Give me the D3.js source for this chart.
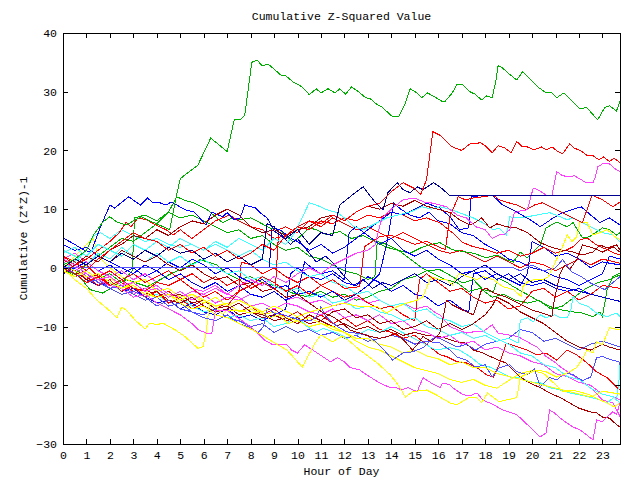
<!DOCTYPE html>
<html><head><meta charset="utf-8">
<script src="https://cdn.jsdelivr.net/npm/d3@7"></script>
<style>
body{margin:0;background:#fff;}
text{font-family:"Liberation Mono","DejaVu Sans Mono",monospace;font-size:11.5px;fill:#000;}
</style></head>
<body>
<svg id="chart" width="640" height="480"></svg>
<script>
// ---------- data (hour of day, cumulative (Z*Z)-1) ----------
const hourTicks = d3.range(0, 24);
const valueTicks = [-30, -20, -10, 0, 10, 20, 30, 40];
const titleText = "Cumulative Z-Squared Value";
const xLabel = "Hour of Day";
const yLabel = "Cumulative (Z*Z)-1";

const g1 = [[0,0.5],[0.5,1.5],[1,3],[1.3,5.6],[1.7,7.8],[2,8.7],[2.3,7.8],[2.7,7.3],[3,8],[3.35,8.7],[3.7,8],[4.1,7.3],[4.55,6.5],[4.8,11.6],[5,15.2],[5.75,17.5],[6.3,22.1],[7,19.8],[7.3,25.2],[7.55,25.2],[7.75,26],[8.05,35],[8.27,35.4],[8.5,34.4],[8.75,34.7],[9.33,32.7],[9.5,32.7],[9.8,31.7],[10.2,30.8],[10.5,29.5],[10.8,30.5],[11,29.8],[11.3,30.5],[11.6,29.8],[11.8,30.5],[12.05,29.6],[12.3,30.8],[12.6,30],[12.9,29],[13.1,28.8],[13.4,27.8],[13.6,27.4],[13.95,26.1],[14.07,25.7],[14.3,25.7],[14.6,28.1],[14.8,30.5],[15.1,29.8],[15.3,29],[15.55,29.8],[15.85,29.1],[16.15,28.4],[16.3,28.4],[16.6,29.8],[16.8,31.3],[17.05,31.2],[17.35,30],[17.56,29.6],[17.85,28.6],[18.07,29.3],[18.3,29],[18.45,31.7],[18.55,34.4],[18.7,34.2],[18.97,33.2],[19.35,32],[19.6,33.4],[19.9,32.2],[20.25,30.8],[20.6,29.8],[20.85,29.8],[21.06,29],[21.36,29.8],[21.7,28.4],[22.04,27.1],[22.33,27.3],[22.6,26.1],[22.8,25.2],[23.1,27.3],[23.3,27.6],[23.6,26.7],[23.75,28.4]];
const r1 = [[0,2],[0.5,1],[1,-0.5],[1.5,1.5],[2,3],[2.5,4.5],[3,6],[3.5,5],[4,4.5],[4.5,3],[5,4],[5.5,2.5],[6,3.5],[6.5,2],[7,3],[7.5,1.5],[8,2.5],[8.5,4],[9,3],[9.5,5.5],[10,7],[10.5,8],[11,7.5],[11.5,9],[12,8],[12.5,9.5],[13,10.5],[13.5,11],[14,13],[14.5,14.5],[15,13.5],[15.25,12.5],[15.5,15],[15.77,23.2],[16.07,22.6],[16.35,21.5],[16.6,20.6],[17,20],[17.35,21.1],[17.8,21.3],[18,20.8],[18.3,19.6],[18.55,20.8],[18.85,20.4],[19.1,19.6],[19.35,21.5],[19.6,20.6],[19.8,20.6],[20.1,20.1],[20.4,20.6],[20.6,20.1],[20.85,20.6],[21.1,19.8],[21.3,19.4],[21.6,21.1],[21.8,20.4],[22.1,19.9],[22.33,19.2],[22.6,19.1],[22.85,18.4],[23.05,18.9],[23.3,18.1],[23.5,18.7],[23.75,17.9]];
const m1 = [[0,1.5],[0.5,0.5],[1,-1],[1.5,-2],[2,-1.5],[2.5,-3],[3,-2.5],[3.5,-4],[4,-3.5],[4.5,-5],[5,-4],[5.5,-5.5],[6,-4.5],[6.5,-3.5],[7,-4.5],[7.5,-3],[8,-2],[8.5,-3],[9,-1.5],[9.5,-2.5],[10,-1],[10.5,0],[11,-1],[11.5,0.5],[12,1.5],[12.5,2.5],[13,3],[13.3,3.9],[13.6,8.5],[14,10],[14.5,11.6],[15,11.9],[15.4,11.2],[15.8,11],[16.35,10.4],[16.8,9],[17.2,8.5],[17.6,7],[18,6.5],[18.3,5],[18.6,5.6],[18.8,5.6],[19.05,6.5],[19.25,9.4],[19.5,9.7],[19.8,9.9],[20.05,13.6],[20.3,13.2],[20.6,12.4],[20.85,12.4],[21.05,16.4],[21.3,15.7],[21.6,15.5],[21.8,15.7],[22,15.2],[22.1,15],[22.3,14.5],[22.6,14.5],[22.7,15.5],[22.8,17.2],[23,17.7],[23.3,17.7],[23.6,16.7],[23.75,16.4]];
const n1 = [[0,0],[0.5,1.5],[1,0.5],[1.5,2],[2,1],[2.5,2.5],[3,1.5],[3.5,3],[4,2],[4.5,3.5],[5,2.5],[5.5,3],[6,1.5],[6.5,2.5],[7,1],[7.5,2],[8,0.5],[8.5,1.5],[8.7,7.5],[9,7],[9.5,5],[10,6.5],[10.5,4],[11,6],[11.5,5.5],[11.8,10.7],[12.3,12.3],[12.8,13.8],[13.3,11.2],[13.65,9.9],[13.85,12.8],[14.25,14.5],[14.5,13.3],[14.8,12.8],[15.1,13.8],[15.35,13.3],[15.8,14.5],[16.07,13.8],[16.5,12.3],[23.75,12.3]];
const sb0 = [[0,0],[19.2,0],[19.5,-0.5],[20,0.5],[20.5,-0.5],[21,0],[21.3,1.4],[21.7,-0.7],[22.1,-1.5],[22.5,-2.6],[23.1,-3.7],[23.75,-1.5]];
const n0 = [[0,0],[8.8,0],[8.9,6.5],[9.3,5.5],[9.7,4],[10,5],[10.4,3],[10.8,1],[11.2,2],[11.6,0.5],[12,-1.5],[12.4,-3],[12.8,-2],[13.2,-3.5],[13.6,-2.5],[14,-3],[14.5,-2],[15,-1],[15.5,-2.5],[16,-2],[16.5,-3],[17,-1.5],[17.5,-0.5],[18,0.5],[18.5,-1],[19,-2],[19.5,-1],[20,-2.5],[20.5,-2],[21,-3],[21.5,-3.5],[22,-4],[22.5,-4.5],[23,-5],[23.75,-5.7]];
const b1 = [[0,5.1],[0.5,4],[0.9,3],[1.2,2.7],[1.6,7],[2,10.7],[2.2,10.2],[2.8,12.1],[3.3,10.7],[3.6,11.9],[3.8,11.2],[4.05,11.2],[4.4,10.7],[4.6,11.2],[4.85,10.7],[5.2,9.9],[5.6,9.5],[6.1,7.3],[6.35,9.5],[6.8,8.7],[7,9.4],[7.3,8.2],[7.55,8.5],[7.75,10.7],[8.2,10.2],[8.4,9.4],[8.7,8.5],[8.95,6.8],[9.3,6.4],[9.7,5],[10,4.5],[10.5,3],[11,4],[11.5,2.5],[12,3.5],[12.5,5],[13,6.5],[13.5,8],[14,9.5],[14.5,9],[15,10],[15.5,11],[16.07,10.2],[16.5,8.7],[16.9,6.5],[17.3,6.8],[17.4,12.1],[18,12.4],[18.3,12.4],[18.75,10.7],[19.35,9.5],[20,8],[20.35,7],[20.9,8.5],[21.3,9.4],[22.1,10.4],[22.5,9],[22.9,7.7],[23.3,8.5],[23.75,7.3]];
const g2 = [[0,-0.5],[0.5,-1],[1,0.5],[1.5,2],[2,3.5],[2.5,5],[3,4.5],[3.5,6],[4,7.5],[4.5,9.5],[4.85,12.1],[5.2,11.5],[5.55,11.1],[6.15,9.9],[6.8,7.7],[7.2,8.5],[7.55,8.2],[8,8.5],[8.4,7.7],[8.8,6.8],[9.25,6.5],[9.8,4.4],[10.1,5.3],[10.5,6.8],[10.8,6.5],[11.25,5.6],[11.8,6.2],[12.3,5],[12.8,5.5],[13.3,4.5],[13.8,3.5],[14.3,3],[14.8,2.5],[15.3,3.5],[15.7,4],[16.07,4.3],[16.6,3.1],[17.2,2.7],[17.5,2.5],[18.05,1.7],[18.5,2.2],[18.9,1.4],[19.2,1],[19.5,2.7],[19.8,1.7],[20.35,3.9],[20.6,6.8],[21.05,7.8],[21.5,7],[21.75,7.7],[22.15,5.1],[22.45,5.3],[22.75,6.1],[23,6.8],[23.3,6.5],[23.6,5.6],[23.75,6]];
const g3 = [[0,0],[0.7,-1.5],[1.15,-3.7],[1.7,-4.3],[2.15,-3.2],[2.7,-2],[3.15,-2.6],[3.6,-3.2],[4.15,-2],[4.6,-1],[5.2,0],[5.85,1.4],[6.55,0.5],[7,-1],[7.5,-2],[8,-1.5],[8.5,-2.5],[9,-3],[9.8,-4.3],[10.4,-4.9],[11,-4],[11.5,-5],[12,-4.5],[12.5,-5.5],[13,-5],[13.5,-4],[14,-3.5],[14.5,-2],[15,-1.5],[15.5,-0.5],[16.07,-0.3],[16.35,-0.9],[16.8,-2],[17.05,-2.6],[17.5,-2],[17.9,-3.7],[18.35,-4.1],[18.55,-1.7],[18.9,-2.4],[19.2,-3.2],[19.6,-4.1],[20.05,-5.1],[20.45,-6],[20.9,-6.8],[21.3,-7.2],[21.75,-7.5],[22.15,-7.7],[22.6,-8.3],[22.9,-7.5],[23,-8.3],[23.2,-3.7],[23.45,-1.5],[23.75,-0.9]];
const g4 = [[0,0],[0.5,-1.5],[1,-0.5],[1.5,-2],[2,-1],[2.5,-2.5],[2.95,-0.5],[3.05,8.5],[3.5,9],[4,8],[4.5,9.5],[5,8.5],[5.5,9],[6,8],[6.5,7],[7,6],[7.5,6.5],[8,5],[8.5,5.5],[9,4],[9.5,3],[10,3.5],[10.5,2],[11,1.5],[11.5,0.5],[12,-0.5],[12.5,-1],[13,-2],[13.3,-1.5],[13.4,4.5],[13.8,4],[14.3,3],[14.8,1.5],[15.3,0],[15.8,-1],[16.3,-2],[16.8,-2.5],[17.3,-4],[17.8,-3.5],[18.3,-5],[18.8,-4.5],[19.3,-5.5],[19.8,-6],[20.3,-5.5],[20.8,-7],[21.3,-6.5],[21.8,-5],[22.3,-3.5],[22.8,-2.5],[23.3,-2],[23.75,-1.2]];
const r2 = [[0,1],[0.5,0],[1,-2],[1.5,-1],[2,-3],[2.5,-2.5],[3,-4],[3.5,-3.5],[4,-5],[4.5,-4],[5,-5.5],[5.5,-6.5],[6,-5.5],[6.5,-7],[7,-6],[7.5,-7.5],[8,-6.5],[8.5,-8],[9,-7],[9.5,-8.5],[10,-7.5],[10.5,-9],[11,-8],[11.5,-9.5],[12,-8.5],[12.5,-10],[13,-9],[13.5,-10.5],[14,-11],[14.5,-12],[15,-11.5],[15.5,-13],[16.07,-14.8],[16.35,-15.1],[16.8,-16],[17.2,-16.2],[17.65,-17],[18.05,-18.2],[18.35,-18.6],[18.6,-16.5],[18.9,-12.8],[19.35,-13.4],[19.8,-14],[20.2,-14.8],[20.6,-14.5],[21.05,-15.7],[21.5,-14],[21.9,-14.8],[22.35,-16.2],[22.75,-17.7],[23.2,-18.7],[23.6,-20.3],[23.75,-20.8]];
const r3 = [[0,0],[0.5,-1],[1,-2.5],[1.5,-1.5],[2,-3],[2.5,-2],[3,-3.5],[3.5,-4],[4,-2.5],[4.5,-3],[5,-2],[5.5,-3.5],[6,-5],[6.5,-4],[7,-5.5],[7.5,-4],[8,-3],[8.5,-1.5],[9,-2.5],[9.5,-4],[10,-3],[10.5,-4.5],[11,-3],[11.5,-2],[12,-3.5],[12.65,-3.2],[12.85,3.6],[13.5,5.3],[13.95,5.6],[14.5,4.8],[15,4],[15.5,4.5],[16,3.6],[16.3,3.1],[16.5,8.7],[16.85,12.1],[17.15,11.6],[17.5,11.9],[17.9,12.1],[18.35,12.4],[18.6,11.6],[18.9,11.2],[19.35,10.7],[19.75,9.9],[20.1,10.7],[20.45,11.1],[20.9,10.2],[21.3,9.4],[21.75,8.5],[22.15,7.7],[22.35,10],[22.55,12.4],[23,11.6],[23.45,10.4],[23.75,11.2]];
const r4 = [[0,2],[0.5,0.5],[1,1.5],[1.5,3],[2,4.5],[2.4,6],[2.7,7.8],[2.9,7],[3.2,8.5],[3.55,8.2],[4.1,7],[4.4,6.5],[4.7,5.6],[5,6.5],[5.5,5],[6,6.5],[6.5,8],[6.8,8.5],[7.1,9],[7.5,8],[8,7],[8.5,6.5],[9,5],[9.5,5.5],[10,7],[10.5,6.5],[11,8],[11.5,7.5],[12,8.5],[12.5,8],[13,9],[13.5,8.5],[14,9.5],[14.5,9],[15,8],[15.5,8.5],[16.07,7.7],[16.6,6],[17.05,4.3],[17.5,3.6],[18.05,3.1],[18.5,2.5],[19,3],[19.5,2],[20,2.5],[20.5,3.5],[21,2.5],[21.5,3.1],[21.75,3.6],[22.05,4.8],[22.35,5.1],[22.75,3.9],[23.2,3.1],[23.45,2.6],[23.75,2.2]];
const r5 = [[0,0.5],[0.5,-0.5],[1,0.5],[1.5,-1.5],[2,-0.5],[2.5,-2],[3,-1],[3.5,-2.5],[4,-1.5],[4.5,-0.5],[5,-2],[5.5,-1],[6,-2.5],[6.5,-1.5],[7,-3],[7.5,-2],[8,-3.5],[8.5,-2.5],[9.05,-3.7],[9.2,6.5],[9.5,7],[10,6],[10.5,8],[11,7],[11.5,8.5],[12,7.5],[12.5,6.5],[13,7],[13.5,6],[14,5],[14.5,6],[15,5],[15.5,4],[16,3],[16.5,2.5],[17,3],[17.5,2],[18,1],[18.5,2],[19,1],[19.5,0],[20,1],[20.5,0.5],[21,-0.5],[21.5,0.5],[22,1.5],[22.5,0.5],[23,1.5],[23.75,0.8]];
const r6 = [[0,1.5],[0.5,0],[1,-1.5],[1.5,-3],[2,-2],[2.5,-4],[3,-3],[3.5,-5],[4,-4],[4.5,-6],[5,-5],[5.5,-7],[6,-6],[6.5,-5],[7,-6.5],[7.5,-4],[7.6,1],[8,0.5],[8.5,-1],[9,0],[9.5,-1.5],[10,-2.5],[10.5,-1.5],[11,-3],[11.5,-4],[12,-5],[12.5,-4.5],[13,-6],[13.5,-7],[14,-6.5],[14.5,-8],[15,-9],[15.2,-2],[15.5,-1],[16,-2.5],[16.5,-4],[17,-3.5],[17.5,-5],[18,-6],[18.5,-5.5],[19,-7],[19.5,-6.5],[20,-4],[20.5,-3.5],[21,-5],[21.5,-4],[22,-5.5],[22.5,-4.5],[23,-3],[23.75,-3.5]];
const dr1 = [[0,0],[0.5,-1],[1,-0.5],[1.5,-2],[2,-1.5],[2.5,-3],[3,-2.5],[3.5,-4],[4,-3.5],[4.5,-5],[5,-4.5],[5.5,-6],[6,-5.5],[6.5,-7],[7,-6.5],[7.5,-8],[8,-7.5],[8.5,-8.5],[9,-8],[9.5,-9],[10,-8.5],[10.5,-9.5],[11,-9],[11.5,-10],[12,-9.5],[12.5,-10.5],[13,-10],[13.5,-11],[14,-10.5],[14.5,-11.5],[15,-11],[15.5,-11.5],[16.07,-11.7],[16.8,-12.6],[17.15,-12.8],[17.5,-14],[17.9,-14.5],[18.55,-15.7],[18.9,-16.2],[19.5,-18.6],[19.9,-19.6],[20.35,-20.4],[20.75,-21.3],[21.2,-22.1],[21.6,-23],[22,-23.9],[22.45,-24.5],[22.75,-24.7],[23,-25.4],[23.3,-25.6],[23.6,-26.7],[23.75,-27.1]];
const dr2 = [[0,0.5],[0.5,1.5],[1,0.5],[1.5,2],[2,1],[2.5,3],[3,2],[3.5,1],[4,2],[4.5,0.5],[5,-0.5],[5.5,0.5],[6,-1],[6.5,-2],[7,-1.5],[7.5,-3],[8,-2.5],[8.5,-4],[9,-3.5],[9.5,-5],[10,-4.5],[10.5,-6],[11.1,-7.7],[11.5,-8.3],[11.9,-9.4],[12.25,-10.6],[12.65,-11.1],[13.1,-11.7],[13.5,-12],[13.85,-11.7],[14.2,-11.1],[14.6,-12.6],[14.9,-14],[15.1,-13.1],[15.35,-11.7],[15.7,-12.6],[16.07,-11.1],[16.15,-9.7],[16.35,-5.5],[16.6,-6.3],[17.05,-7.2],[17.5,-8],[17.85,-3.7],[18.05,-3.5],[18.4,-4.3],[18.85,-4.9],[19.4,-6],[20,-7.2],[20.45,-7.7],[20.85,-8.3],[20.95,-5.5],[21.2,-0.9],[21.4,0.5],[21.6,-0.3],[21.9,1.4],[22.15,3.9],[22.6,3.4],[23,2.7],[23.45,3.6],[23.75,2.7]];
const dr3 = [[0,-1],[0.5,0.5],[1,2],[1.5,1],[2,3],[2.5,4],[3,5.5],[3.5,5],[4,6.5],[4.5,5.5],[5,7],[5.5,8],[6,7.5],[6.5,9],[7,10],[7.5,9],[8,7],[8.5,6],[9,6.5],[9.5,5.5],[10,6.5],[10.5,7],[11,8.5],[11.5,9],[12,8],[12.5,9.5],[13,10.5],[13.5,10],[14,11],[14.5,10.5],[15,11.5],[15.5,10.5],[16.07,9.9],[16.5,9.4],[16.9,8.2],[17.35,7.3],[17.6,7.8],[17.85,8.5],[18.2,6.8],[18.5,7.5],[18.9,7],[19.35,6.8],[19.8,6],[20.35,4.3],[20.75,3.6],[21.2,3.1],[21.75,2.7],[22.15,2.2],[22.6,2.7],[22.9,3.9],[23.2,3.4],[23.6,3.9],[23.75,3.1]];
const dr4 = [[0,0],[0.5,-0.5],[1,-2],[1.5,-1],[2,-2.5],[2.5,-3.5],[3,-3],[3.5,-4.5],[4,-4],[4.5,-5.5],[5,-6],[5.5,-5],[6,-6.5],[6.5,-7.5],[7,-7],[7.5,-6],[8,-7.5],[8.5,-8],[9,-9],[9.5,-8.5],[10,-9.5],[10.5,-8],[11,-9],[11.5,-7.5],[12,-7],[12.5,-8.5],[13,-8],[13.5,-9.5],[14,-9],[14.5,-10.5],[15,-10],[15.5,-9],[16,-10.5],[16.5,-9.5],[17,-10.5],[17.5,-9.5],[18,-8],[18.3,-6.5],[18.5,-5],[19,-6],[19.5,-7.5],[20,-8.5],[20.5,-9.5],[21,-11],[21.5,-12.5],[22,-13.5],[22.5,-14],[23,-13],[23.3,-13.5],[23.75,-14]];
const c1 = [[0,3],[0.5,2],[1,0.5],[1.5,2.5],[2,1.5],[2.5,3.5],[3,2],[3.5,1],[4,2.5],[4.5,1],[5,2],[5.5,0.5],[6,1.5],[6.5,0],[7,-1],[7.5,-0.5],[8,-2],[8.5,-1.5],[9,-3],[9.5,-4],[10,-3.5],[10.5,-5],[11,-4.5],[11.5,-6],[12,-5.5],[12.5,-7],[13,-6.5],[13.5,-7.5],[14,-8],[14.5,-9],[15,-8.5],[15.5,-10],[16,-10.5],[16.5,-11.5],[17,-11],[17.5,-12],[18,-11.5],[18.5,-12.5],[19,-12],[19.4,-12.8],[19.5,-8.9],[19.8,-8.5],[20.05,-9.2],[20.35,-8],[20.6,-8.5],[20.95,-8],[21.2,-8.5],[21.5,-8.5],[21.65,-7.2],[21.75,-4.9],[22,-6],[22.4,-6.6],[22.75,-7.7],[23.2,-8.3],[23.6,-7.7],[23.75,-8.3]];
const c2 = [[0,1],[0.5,-0.5],[1,-2],[1.5,-1],[2,-2.5],[2.5,-4],[3,-3],[3.5,-5],[4,-4.5],[4.5,-6],[5,-5],[5.5,-6.5],[6,-7.5],[6.5,-7],[7,-8.5],[7.5,-8],[8,-9],[8.5,-8.5],[9,-10],[9.5,-9.5],[10,-8.3],[10.4,-10],[10.8,-10.9],[11.1,-10.3],[11.7,-11.1],[12.1,-12],[12.5,-11.5],[13,-10.5],[13.5,-11],[14,-10],[14.8,-11.7],[15.35,-12.8],[15.9,-14],[16.5,-13.6],[16.9,-14],[17.35,-15.1],[17.8,-16.5],[18.2,-16.9],[18.6,-17.7],[19.05,-18.6],[19.5,-18.7],[19.9,-19.4],[20.35,-19.6],[20.75,-20.4],[21.2,-20.8],[21.6,-21.3],[22,-21.6],[22.45,-22],[22.9,-22.5],[23.2,-23],[23.5,-22],[23.6,-22.5],[23.7,-19.6],[23.75,-16.2]];
const c3 = [[0,2.5],[0.5,3.5],[1,2],[1.5,4],[2,3],[2.5,2],[3,4],[3.5,3],[4,4.5],[4.5,3.5],[5,5],[5.5,4],[6,3],[6.5,4.5],[7,3.5],[7.5,5],[8,4],[8.5,3],[9,5],[9.5,4],[9.8,5.5],[10.1,7.7],[10.3,9.4],[10.5,11.1],[10.8,10.7],[11.25,9.9],[11.7,9.4],[12.1,8.2],[12.4,7],[12.8,6.5],[13.3,7.5],[13.8,8.5],[14.3,9],[14.8,9.5],[15.3,10.4],[15.7,10],[16.07,10.4],[16.5,10],[16.9,9.4],[17.5,8.5],[17.9,7.7],[18.35,6.5],[18.6,6.8],[18.9,5.6],[19.05,8.7],[19.35,8.5],[19.8,8.7],[20.2,9],[20.75,9.4],[21.2,8.7],[21.5,8.2],[21.75,8.5],[22.15,7.7],[22.6,6.8],[23,6],[23.45,5.6],[23.75,4.4]];
const c4 = [[0,-0.5],[0.5,1],[1,3],[1.3,5.5],[1.6,6],[2,5],[2.5,6.5],[3,5.5],[3.5,4.5],[4,5],[4.5,4],[5,3.5],[5.5,4],[6,3],[6.5,4],[7,3],[7.5,2],[8,3],[8.5,1.5],[9,0.5],[9.5,1],[10,-0.5],[10.5,-1.5],[11,-1],[11.5,-2.5],[12,-3],[12.5,-4.5],[13,-4],[13.5,-5.5],[14,-6.5],[14.5,-6],[15,-7.5],[15.5,-7],[16,-8.5],[16.5,-9],[17,-10],[17.5,-9.5],[18,-11],[18.5,-12],[19,-13],[19.5,-14.5],[20,-15],[20.5,-16.5],[21,-17],[21.5,-18.5],[22,-19],[22.5,-20.5],[23,-21.5],[23.5,-22],[23.75,-23]];
const y1 = [[0,0],[0.5,-2],[1,-3.5],[1.45,-5.5],[1.9,-7],[2.3,-8.5],[2.5,-6.7],[2.7,-7.2],[3.1,-9],[3.5,-10.4],[3.7,-9.4],[4,-9.7],[4.25,-9.4],[4.8,-10.6],[5.2,-11.7],[5.75,-13.7],[5.97,-13.4],[6.1,-11.1],[6.25,-6],[6.55,-6.6],[6.8,-8],[7,-7.2],[7.5,-7.2],[8,-7.7],[8.4,-7.4],[8.8,-8.5],[9.2,-8],[9.6,-9.5],[10,-9],[10.5,-10],[11,-9.5],[11.5,-10.5],[12,-11],[12.5,-12],[13,-12],[13.5,-13],[14,-13.5],[14.5,-14.5],[15,-14],[15.5,-15],[16,-15.5],[16.5,-16.5],[17,-16],[17.5,-17],[18,-17],[18.5,-18],[19,-18.5],[19.5,-19],[20,-19.5],[20.5,-20],[21,-20.5],[21.5,-21],[22,-21.5],[22.5,-22],[23,-21],[23.75,-21.5]];
const y2 = [[0,0.5],[0.5,-0.5],[1,-1.5],[1.5,-1],[2,-2.5],[2.5,-3.5],[3,-3],[3.5,-4.5],[4,-5],[4.5,-4.5],[5,-6],[5.5,-7],[6,-6.5],[6.5,-8],[7,-8.5],[7.5,-9.5],[8.1,-10.6],[8.5,-11.5],[8.95,-12.6],[9.55,-14],[10.2,-16.9],[10.75,-12.8],[11,-11.4],[11.5,-12.6],[11.9,-11.6],[12.25,-12.6],[12.65,-14],[13,-15],[13.4,-16.2],[13.95,-18.2],[14.3,-20],[14.6,-22],[14.9,-21.1],[15.5,-20.8],[15.9,-21.6],[16.5,-23],[16.8,-23.3],[17.3,-22.1],[17.6,-22],[17.85,-23],[18.1,-21.3],[18.6,-22.8],[18.9,-22.5],[19.35,-22.1],[19.5,-18.6],[19.8,-18],[20.2,-17.4],[20.6,-17.7],[21.05,-18.6],[21.5,-17.9],[21.9,-17],[22.15,-15.5],[22.35,-14],[22.6,-14.5],[22.75,-12.6],[23,-13.1],[23.3,-10.2],[23.75,-10.6]];
const y3 = [[0,0],[0.5,2],[1,4],[1.3,5],[1.5,2],[2,0],[2.5,-1.5],[3,-2.5],[3.5,-2],[4,-4],[4.5,-3.5],[5,-5],[5.5,-4.5],[6,-5.5],[6.5,-6.5],[7,-6],[7.5,-7.5],[8,-7],[8.5,-8],[9,-7.5],[9.5,-8.5],[10,-9],[10.5,-8.5],[11,-9.5],[11.5,-10],[12,-11],[12.5,-12.5],[13,-13.5],[13.5,-14],[14,-15],[14.5,-16],[15,-17],[15.5,-17.5],[16,-18],[16.5,-19],[17,-19.5],[17.5,-19],[18,-20],[18.5,-20.5],[19,-19.2],[19.5,-18],[20,-17.5],[20.5,-18],[21,-19.9],[21.3,-21.1],[21.7,-20.8],[22,-21.1],[22.45,-21.6],[22.9,-22.5],[23.2,-23],[23.5,-23.7],[23.75,-23]];
const y4 = [[0,-0.5],[0.5,-1.5],[1,-0.5],[1.5,-2],[2,-1.5],[2.5,-3.5],[3,-2.5],[3.5,-4],[4,-5],[4.5,-4.5],[5,-5.5],[5.5,-4.5],[6,-6],[6.5,-5],[7,-6.5],[7.5,-5.5],[8,-6.5],[8.5,-7.5],[9,-6.5],[9.4,-7.2],[10,-8.3],[10.4,-7.7],[10.8,-7.2],[11.4,-6.6],[11.9,-6],[12.65,-6.6],[13.4,-6.6],[13.8,-7.7],[14.25,-6.6],[14.65,-6],[15.1,-5.5],[15.35,-4.9],[15.7,-1.5],[16.07,-2],[16.35,-2],[16.6,-2.9],[16.9,-0.9],[17.25,-1.5],[17.65,-2],[17.9,-1.5],[18.35,-2],[18.75,-3.2],[19.2,-3.7],[19.55,-4.9],[19.6,-3.2],[19.8,-2.4],[20.1,-2],[20.45,-2],[20.7,-1.5],[20.9,0.2],[21.1,1.9],[21.3,3.6],[21.5,5.6],[21.7,4.5],[21.9,5.3],[22.05,7.8],[22.35,7.7],[22.6,5.6],[22.9,6],[23.2,6.5],[23.6,5.1],[23.75,4.8]];
const m2 = [[0,1],[0.5,0],[1,-1.5],[1.5,-2],[2,-3],[2.5,-3.5],[3,-5],[3.5,-4.5],[4,-6],[4.5,-7],[5,-8],[5.5,-9.5],[5.75,-10.5],[6.1,-11.1],[6.35,-11.1],[6.5,-7.2],[7,-7.2],[7.25,-8],[7.6,-8.9],[7.97,-10],[8.25,-10.9],[8.6,-12.3],[8.95,-13.1],[9.55,-13.1],[9.75,-14],[10,-14.5],[10.3,-13.1],[10.65,-14],[10.95,-14.8],[11.4,-16],[11.7,-15.3],[12,-16],[12.25,-17],[12.65,-17.4],[13.1,-18.6],[13.5,-19.6],[13.95,-20.4],[14.2,-20.4],[14.45,-20.8],[14.7,-20.4],[15.1,-21.1],[15.35,-18.7],[15.7,-19.6],[16.07,-20.4],[16.2,-19.6],[16.5,-19.9],[16.6,-20.4],[17.05,-21.6],[17.35,-21.8],[17.65,-21.3],[17.9,-22.5],[18.35,-23.3],[18.75,-24.2],[19.35,-25],[19.8,-26.7],[20.35,-28.8],[20.6,-28.1],[20.75,-24.2],[20.95,-24.7],[21.3,-25.9],[21.75,-27.1],[22.05,-27.6],[22.6,-29.3],[22.75,-25.9],[23,-26.2],[23.2,-25.4],[23.45,-24.5],[23.6,-25],[23.75,-23]];
const m3 = [[0,0.5],[0.5,-0.5],[1,-1],[1.5,-2.5],[2,-3],[2.5,-2],[3,-4.5],[3.5,-3.5],[4,-3],[4.5,-4.5],[5,-5],[5.5,-4],[6,-4.5],[6.5,-6],[7,-5],[7.5,-5.5],[8,-4.5],[8.5,-5],[9,-4],[9.5,-5.5],[10,-5],[10.5,-6],[11,-5.5],[11.5,-6.5],[12,-6],[12.5,-5],[13,-6],[13.5,-5.5],[14,-6.5],[14.5,-6],[15,-7],[15.5,-6.5],[15.9,-7.7],[16.07,-8],[16.5,-10],[16.85,-10.6],[17.2,-11.1],[17.5,-10.9],[17.9,-10.9],[18.3,-9.7],[18.55,-11.1],[18.95,-11.4],[19.4,-11.7],[19.8,-12.6],[20.25,-13.6],[20.6,-15.1],[20.95,-16],[21.25,-17],[21.6,-17.9],[22.15,-19.4],[22.6,-20.8],[23,-22.5],[23.45,-23],[23.75,-25.3]];
const m4 = [[0,1.5],[0.5,2.5],[1,1],[1.5,-0.5],[2,-1.5],[2.5,-0.5],[3,-2],[3.5,-1],[4,-2.5],[4.5,-3],[5,-2],[5.5,-3.5],[6,-4],[6.5,-3],[7,-4.5],[7.5,-5],[8,-6.5],[8.5,-6],[9,-7],[9.5,-6],[10,-6.5],[10.5,-7.5],[11,-8],[11.5,-7],[12,-8.5],[12.5,-8],[13,-9],[13.5,-8],[14,-9.5],[14.5,-9],[15,-10.5],[15.5,-11],[16,-12],[16.5,-11.5],[17,-13],[17.5,-12.5],[18,-14],[18.5,-13.5],[19,-14.5],[19.5,-15],[20,-16],[20.5,-16.5],[21,-18],[21.5,-18.5],[22,-19.5],[22.5,-20],[23,-21.5],[23.5,-22],[23.75,-22.5]];
const b2 = [[0,4],[0.5,3],[1,3.5],[1.5,2],[2,1],[2.5,0],[3,-1],[3.5,0.5],[4,-0.5],[4.5,-2],[5,-1],[5.5,-2.5],[6,-3.5],[6.5,-2.5],[7,-4],[7.5,-3],[8,-4.5],[8.5,-5],[9,-4],[9.5,-5.5],[10,-4.5],[10.3,1],[10.6,0],[11,-1],[11.5,-0.5],[12,-2],[12.2,6],[12.5,7],[13,5.5],[13.5,4],[14,5],[14.5,3],[15,2],[15.5,3],[16,1.5],[16.5,0.5],[17,-1],[17.5,-0.5],[18,-2],[18.5,-1],[19,-2],[19.5,-3],[19.8,-1],[20,4.5],[20.5,3.5],[21,2],[21.5,2.5],[22,1.5],[22.5,0],[23,1],[23.75,0.5]];
const b3 = [[0,1],[0.5,-0.5],[1,-2],[1.5,-3],[2,-2.5],[2.5,-4],[3,-3.5],[3.5,-5],[4,-6],[4.5,-5.5],[5,-7],[5.5,-6],[6,-7.5],[6.5,-8],[7,-7],[7.5,-8.5],[8,-8],[8.5,-9],[9,-8],[9.5,-7],[9.7,-1],[10,0],[10.5,-1.5],[11,-2],[11.5,-1],[12,-2.5],[12.5,-3],[13,-1.5],[13.5,-2.5],[14,-4],[14.5,-3],[15,-4.5],[15.5,-5],[16,-6.5],[16.5,-5.5],[17,-7],[17.3,-7.5],[17.5,-1],[18,-0.5],[18.5,-2],[19,-1],[19.5,-2.5],[20,-3],[20.5,-2.5],[21,-3.5],[21.5,-4],[22,-3.5],[22.5,-4.5],[23,-5],[23.5,-5.5],[23.75,-5.7]];
const b4 = [[0,-1],[0.5,0],[1,1],[1.5,-0.5],[2,0.5],[2.5,-1],[3,0],[3.5,-1.5],[4,-0.5],[4.5,1],[5,0],[5.5,1.5],[6,0.5],[6.5,-1],[7,0],[7.5,-1.5],[8,-2.5],[8.5,-2],[9,-3.5],[9.5,-3],[10,-4.5],[10.5,-4],[11,-5],[11.5,-4],[12,-5.5],[12.5,-4.5],[13,-3],[13.5,-1],[13.8,4],[14.1,11],[14.4,10],[14.8,9],[15.2,8.5],[15.6,9.5],[16,8],[16.5,7.5],[17,6],[17.5,5.5],[18,4],[18.5,3],[19,1.5],[19.5,1],[20,0],[20.5,-0.5],[21,-1.5],[21.5,-2],[22,-3],[22.5,-2],[23,-1],[23.3,2],[23.75,1.5]];
const s2 = [[0,0],[0.5,-1.5],[1,-1],[1.5,-2.5],[2,-3.5],[2.5,-3],[3,-4.5],[3.5,-5.5],[4,-5],[4.5,-6.5],[5,-6],[5.5,-7.5],[6,-8],[6.5,-7],[7,-8.5],[7.5,-9],[8,-10],[8.5,-9.5],[9,-11],[9.5,-10],[10,-11],[10.5,-10.5],[11,-11.5],[11.5,-11],[12,-12],[12.5,-11.5],[13,-12.5],[13.5,-12],[14,-11.5],[14.5,-12],[15,-13],[15.5,-12.5],[16.07,-12.8],[16.5,-14],[16.8,-15.2],[17.2,-15.7],[17.6,-16.9],[18,-16.5],[18.3,-18.6],[18.6,-17],[19.05,-16.5],[19.35,-17.7],[19.8,-18.2],[20.1,-17.2],[20.35,-20.3],[20.75,-18.7],[21.05,-19.1],[21.4,-17.9],[21.75,-18.2],[22.15,-19.2],[22.5,-18.6],[22.75,-15.3],[23,-15.1],[23.4,-15.7],[23.7,-16],[23.75,-16.5]];
const s3 = [[0,0.5],[0.5,-1],[1,-2.5],[1.5,-2],[2,-3.5],[2.5,-4.5],[3,-4],[3.5,-5],[4,-6.5],[4.5,-5.5],[5,-7],[5.5,-7.5],[6,-8.5],[6.5,-9],[7,-8],[7.5,-9.5],[8,-10.2],[8.3,-11.1],[8.55,-10],[8.7,-6.8],[9,-7.7],[9.4,-8],[9.8,-8.5],[10.1,-8.9],[10.6,-8.9],[10.8,-8.3],[11,-6.6],[11.2,-8.3],[11.7,-10],[12.1,-10.9],[12.45,-11.1],[12.95,-11.4],[13.4,-12.8],[13.8,-14.5],[14.05,-15.7],[14.5,-14.5],[14.9,-14.3],[15.35,-13.6],[15.7,-12.3],[15.9,-11.7],[16.3,-12.5],[16.8,-13.5],[17.2,-13],[17.6,-14],[18,-13],[18.5,-12.5],[19,-12],[19.5,-10.5],[20,-11],[20.5,-12.5],[21,-12],[21.5,-13],[22,-14],[22.5,-13],[23,-12.5],[23.75,-13.5]];

const seriesColors = {
  red: "#ff0000", green: "#00b000", blue: "#0000ff", magenta: "#ff40ff",
  cyan: "#40ffff", darkred: "#a80000", yellow: "#ffff00", slate: "#5050ff",
  navy: "#000090", navyblue: "#0000c0"
};
const series = [
  [r2,"red"],[g3,"green"],[b3,"blue"],[m3,"magenta"],[c2,"cyan"],[dr1,"darkred"],[y3,"yellow"],[s2,"slate"],
  [r6,"red"],[g4,"green"],[b4,"blue"],[m4,"magenta"],[c4,"cyan"],[dr4,"darkred"],[y1,"yellow"],[s3,"slate"],
  [r5,"red"],[g2,"green"],[b2,"blue"],[m2,"magenta"],[c1,"cyan"],[dr2,"darkred"],[y2,"yellow"],
  [r4,"red"],[n0,"navyblue"],[sb0,"slate"],[b1,"blue"],[c3,"cyan"],[dr3,"darkred"],[y4,"yellow"],
  [r3,"red"],[m1,"magenta"],[n1,"navy"],[r1,"red"],[g1,"green"]
];

// ---------- layout ----------
const L = 63, R = 620, T = 33, B = 444;
const svg = d3.select("#chart");
const x = d3.scaleLinear().domain([0, 23.75]).range([L, R]);
const y = d3.scaleLinear().domain([-30, 40]).range([B, T]);

svg.append("rect").attr("width",640).attr("height",480).attr("fill","#fff");

svg.append("defs").append("clipPath").attr("id","plotclip")
  .append("rect").attr("x",L).attr("y",T).attr("width",R-L).attr("height",B-T);

const line = d3.line().x(d => x(d[0])).y(d => y(d[1]));
const lines = svg.append("g").attr("clip-path","url(#plotclip)");
series.forEach(([data, c]) => {
  lines.append("path").attr("d", line(data)).attr("fill","none")
    .attr("stroke", seriesColors[c]).attr("stroke-width",1)
    .attr("shape-rendering","crispEdges");
});

// axes
function styleAxis(g){
  g.select(".domain").remove();
  g.selectAll(".tick line").attr("stroke","#000").attr("shape-rendering","crispEdges");
  g.selectAll("text").attr("font-family",null).attr("font-size",null).attr("fill","#000");
}
svg.append("g").attr("transform",`translate(0,${B})`)
  .call(d3.axisBottom(x).tickValues(hourTicks).tickFormat(d3.format("d")).tickSizeInner(-5).tickSizeOuter(0).tickPadding(7))
  .call(styleAxis);
svg.append("g").attr("transform",`translate(0,${T})`)
  .call(d3.axisTop(x).tickValues(hourTicks).tickFormat("").tickSizeInner(-5).tickSizeOuter(0))
  .call(styleAxis);
svg.append("g").attr("transform",`translate(${L},0)`)
  .call(d3.axisLeft(y).tickValues(valueTicks).tickFormat(d3.format("d")).tickSizeInner(-5).tickSizeOuter(0).tickPadding(6))
  .call(styleAxis);
svg.append("g").attr("transform",`translate(${R},0)`)
  .call(d3.axisRight(y).tickValues(valueTicks).tickFormat("").tickSizeInner(-5).tickSizeOuter(0))
  .call(styleAxis);

// frame
svg.append("rect").attr("x",L+0.5).attr("y",T+0.5).attr("width",R-L).attr("height",B-T)
  .attr("fill","none").attr("stroke","#000").attr("stroke-width",1).attr("shape-rendering","crispEdges");

// titles
svg.append("text").attr("x",(L+R)/2).attr("y",20).attr("text-anchor","middle").text(titleText);
svg.append("text").attr("x",(L+R)/2).attr("y",475).attr("text-anchor","middle").text(xLabel);
svg.append("text").attr("transform",`translate(27,${(T+B)/2}) rotate(-90)`).attr("text-anchor","middle").text(yLabel);
</script>
</body></html>
